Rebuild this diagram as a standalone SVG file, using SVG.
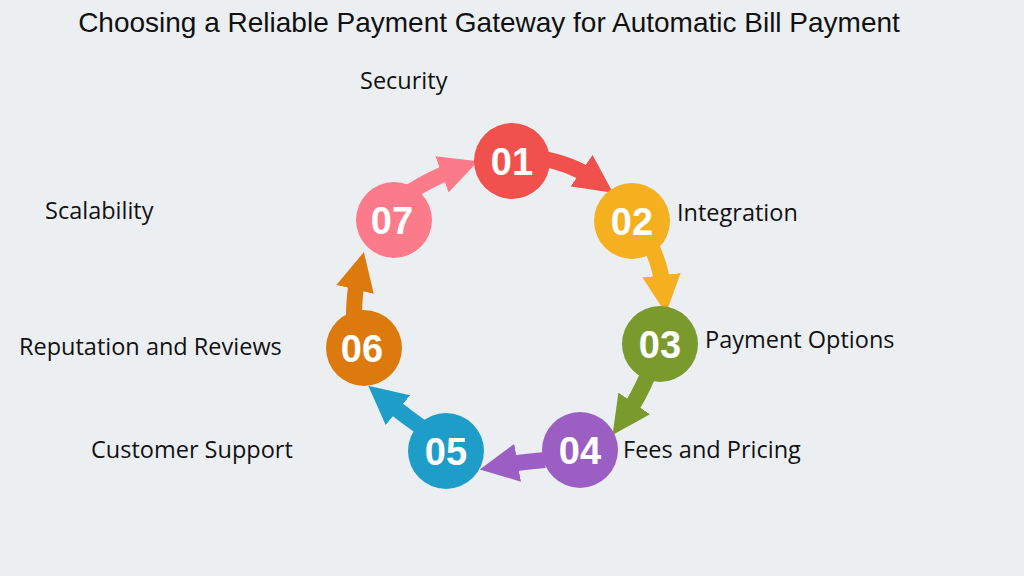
<svg xmlns="http://www.w3.org/2000/svg" width="1024" height="576" viewBox="0 0 1024 576">
<style>
.t{font-family:"Liberation Sans",Arial,sans-serif;font-size:28px;fill:#111}
.l{font-family:"Open Sans","Noto Sans",sans-serif;font-size:23.5px;fill:#111}
.n{font-family:"Liberation Sans",Arial,sans-serif;font-weight:bold;font-size:38px;fill:#fff;text-anchor:middle}
.a{fill:none;stroke-width:16}
</style>
<defs>
<marker id="m1" markerWidth="2.4" markerHeight="2.4" refX="0.8" refY="1.2" orient="auto"><path d="M0,0 L2.4,1.2 L0,2.4Z" fill="#f0514d"/></marker>
<marker id="m2" markerWidth="2.4" markerHeight="2.4" refX="0.8" refY="1.2" orient="auto"><path d="M0,0 L2.4,1.2 L0,2.4Z" fill="#f4b01e"/></marker>
<marker id="m3" markerWidth="2.4" markerHeight="2.4" refX="0.8" refY="1.2" orient="auto"><path d="M0,0 L2.4,1.2 L0,2.4Z" fill="#7a9a2e"/></marker>
<marker id="m4" markerWidth="2.4" markerHeight="2.4" refX="0.8" refY="1.2" orient="auto"><path d="M0,0 L2.4,1.2 L0,2.4Z" fill="#9b5fc4"/></marker>
<marker id="m5" markerWidth="2.4" markerHeight="2.4" refX="0.8" refY="1.2" orient="auto"><path d="M0,0 L2.4,1.2 L0,2.4Z" fill="#1f9dc9"/></marker>
<marker id="m6" markerWidth="2.4" markerHeight="2.4" refX="0.8" refY="1.2" orient="auto"><path d="M0,0 L2.4,1.2 L0,2.4Z" fill="#dd7a0d"/></marker>
<marker id="m7" markerWidth="2.4" markerHeight="2.4" refX="0.8" refY="1.2" orient="auto"><path d="M0,0 L2.4,1.2 L0,2.4Z" fill="#fb7b8b"/></marker>
</defs>
<rect width="1024" height="576" fill="#eceff2"/>
<text class="t" x="489" y="32" text-anchor="middle">Choosing a Reliable Payment Gateway for Automatic Bill Payment</text>
<g id="connectors">
<path class="a" stroke="#f0514d" d="M540,158 Q572,164 592,178" marker-end="url(#m1)"/>
<path class="a" stroke="#f4b01e" d="M648,240 Q660,262 663,288" marker-end="url(#m2)"/>
<path class="a" stroke="#7a9a2e" d="M648,375 Q638,398 627,414" marker-end="url(#m3)"/>
<path class="a" stroke="#9b5fc4" d="M545,460 Q522,462 505,465" marker-end="url(#m4)"/>
<path class="a" stroke="#1f9dc9" d="M425,430 Q405,416 388,402" marker-end="url(#m5)"/>
<path class="a" stroke="#dd7a0d" d="M354,316 Q354,294 358,277" marker-end="url(#m6)"/>
<path class="a" stroke="#fb7b8b" d="M410,192 Q432,178 454,170" marker-end="url(#m7)"/>
</g>
<g id="n01"><circle cx="512" cy="161" r="38" fill="#f0514d"/><text class="n" x="512" y="175">01</text><text class="l" x="360" y="89">Security</text></g>
<g id="n02"><circle cx="632" cy="221" r="38" fill="#f4b01e"/><text class="n" x="632" y="235">02</text><text class="l" x="677" y="221">Integration</text></g>
<g id="n03"><circle cx="660" cy="344" r="38" fill="#7a9a2e"/><text class="n" x="660" y="358">03</text><text class="l" x="705" y="348">Payment Options</text></g>
<g id="n04"><circle cx="580" cy="450" r="38" fill="#9b5fc4"/><text class="n" x="580" y="464">04</text><text class="l" x="623" y="458">Fees and Pricing</text></g>
<g id="n05"><circle cx="446" cy="451" r="38" fill="#1f9dc9"/><text class="n" x="446" y="465">05</text><text class="l" x="91" y="458">Customer Support</text></g>
<g id="n06"><circle cx="364" cy="348" r="38" fill="#dd7a0d"/><text class="n" x="362" y="362">06</text><text class="l" x="19" y="355">Reputation and Reviews</text></g>
<g id="n07"><circle cx="394" cy="220" r="38" fill="#fb7b8b"/><text class="n" x="392" y="234">07</text><text class="l" x="45" y="219">Scalability</text></g>
</svg>
